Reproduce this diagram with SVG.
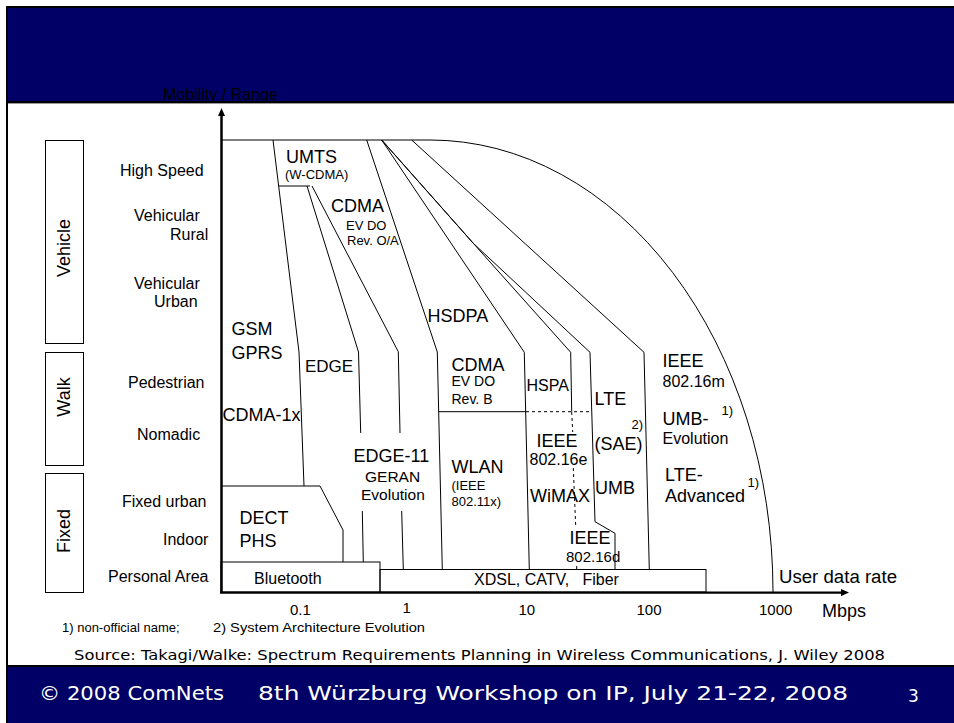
<svg xmlns="http://www.w3.org/2000/svg" width="954" height="723" viewBox="0 0 954 723">
<style>
.t{font-family:"Liberation Sans",Arial,sans-serif;fill:#000}
.v{font-family:"DejaVu Sans",Verdana,sans-serif}
.ln{fill:none;stroke:#000;stroke-width:1}
.ds{fill:none;stroke:#000;stroke-width:1;stroke-dasharray:3 3}
.box{fill:#fff;stroke:#000;stroke-width:1}
.s13{font-size:13px}.s14{font-size:14px}.s15{font-size:15px}.s155{font-size:15.5px}.s16{font-size:16px}.s17{font-size:17px}.s18{font-size:18px}
</style>
<defs>
<marker id="arr" viewBox="0 0 8 7" markerWidth="8" markerHeight="7" refX="0" refY="3.5" orient="auto" markerUnits="userSpaceOnUse">
<path d="M0,0 L8,3.5 L0,7 z" fill="#000"/>
</marker>
</defs>
<rect x="0" y="0" width="954" height="723" fill="#fff"/>
<g id="header">
<rect x="7" y="7" width="952" height="95" fill="#000066" stroke="#000" stroke-width="2"/>
<line x1="8" y1="103.5" x2="954" y2="103.5" stroke="#999" stroke-width="1"/>
</g>
<g id="footer">
<rect x="7" y="666" width="952" height="62" fill="#000066" stroke="#000" stroke-width="2"/>
<text class="v" x="39" y="700" font-size="20" fill="#fff" textLength="185" lengthAdjust="spacingAndGlyphs">© 2008 ComNets</text>
<text class="v" x="258" y="700" font-size="20" fill="#fff" textLength="590" lengthAdjust="spacingAndGlyphs">8th Würzburg Workshop on IP, July 21-22, 2008</text>
<text class="v" x="908" y="702" font-size="17" fill="#fff">3</text>
</g>
<line x1="7" y1="7" x2="7" y2="723" stroke="#000" stroke-width="2"/>
<text class="t s16" x="163" y="100">Mobility / Range</text>

<g id="categories">
<g id="vehicle"><rect class="box" x="45.5" y="140.5" width="38" height="203"/>
<text class="t s18" transform="translate(70,248) rotate(-90)" text-anchor="middle">Vehicle</text></g>
<g id="walk"><rect class="box" x="45.5" y="352.5" width="38" height="113"/>
<text class="t s18" transform="translate(70,397) rotate(-90)" text-anchor="middle">Walk</text></g>
<g id="fixed"><rect class="box" x="45.5" y="473.5" width="38" height="119"/>
<text class="t s18" transform="translate(70,531) rotate(-90)" text-anchor="middle">Fixed</text></g>
</g>

<g id="levels" class="t s16">
<text x="120" y="176">High Speed</text>
<text x="134" y="221">Vehicular</text>
<text x="170" y="239.5">Rural</text>
<text x="134" y="288.5">Vehicular</text>
<text x="154" y="307">Urban</text>
<text x="128" y="387.5">Pedestrian</text>
<text x="137" y="439.5">Nomadic</text>
<text x="122" y="507">Fixed urban</text>
<text x="163" y="545">Indoor</text>
<text x="108" y="582">Personal Area</text>
</g>

<g id="connectors">
<path class="ln" d="M221,140 H430 A343,452 0 0 1 773,592"/>
<polyline class="ln" points="273,140 299,352 304,486"/>
<line class="ln" x1="278.5" y1="186" x2="310" y2="186"/>
<polyline class="ln" points="307,186 358.5,352 360.7,433"/>
<line class="ln" x1="362.3" y1="511" x2="363.3" y2="562"/>
<polyline class="ln" points="312,186 398.3,351.7 400,433"/>
<line class="ln" x1="401.7" y1="511" x2="403.3" y2="569.5"/>
<polyline class="ln" points="366.7,140 437.3,352 442.3,569.5"/>
<polyline class="ln" points="381.7,140 524.3,352.3 529.3,569.5"/>
<polyline class="ln" points="381.7,140 473.3,243.3 570.7,352.3 571.7,411.7"/>
<polyline class="ln" points="381.7,140 473.3,243.3 590,352.3 595,521.7 615,533.3 615,569.5"/>
<polyline class="ln" points="411.7,140 644,352.3 649.3,569.5"/>
<polyline class="ln" points="221,486 320,486 343,530 343,562"/>
<line class="ln" x1="439" y1="411.7" x2="526" y2="411.7"/>
<line class="ds" x1="526" y1="411.7" x2="591" y2="411.7"/>
<line class="ds" x1="571.7" y1="412" x2="572.7" y2="432"/>
<line class="ds" x1="573.3" y1="468" x2="575.7" y2="526"/>
<line class="ln" x1="576.7" y1="566" x2="576.7" y2="570"/>
<rect class="ln" x="221" y="562" width="159" height="30"/>
<rect class="ln" x="380" y="569.5" width="326" height="22.5"/>
<line x1="221.5" y1="593" x2="221.5" y2="116" stroke="#000" stroke-width="2.5" marker-end="url(#arr)"/>
<line x1="220" y1="592.6" x2="841" y2="592.6" stroke="#000" stroke-width="2.3" marker-end="url(#arr)"/>
</g>

<g id="systems" class="t">
<text class="s18" x="286" y="162.5">UMTS</text>
<text class="s13" x="285" y="179">(W-CDMA)</text>
<text class="s18" x="331" y="211.5">CDMA</text>
<text class="s13" x="346" y="229.5">EV DO</text>
<text class="s13" x="347" y="245">Rev. O/A</text>
<text class="s18" x="427.5" y="321.5">HSDPA</text>
<text class="s18" x="231.5" y="335">GSM</text>
<text class="s18" x="231.5" y="358.5">GPRS</text>
<text class="s18" x="222.5" y="420.5">CDMA-1x</text>
<text class="s18" x="239.5" y="524">DECT</text>
<text class="s18" x="239.5" y="546.5">PHS</text>
<text class="s16" x="254" y="583.5">Bluetooth</text>
<text class="s17" x="305" y="371.5">EDGE</text>
<text class="s18" x="353.5" y="461.5">EDGE-11</text>
<text class="s155" x="365" y="481.5">GERAN</text>
<text class="s155" x="361" y="500">Evolution</text>
<text class="s18" x="451.5" y="370.5">CDMA</text>
<text class="s14" x="451.5" y="386">EV DO</text>
<text class="s14" x="451.5" y="403.5">Rev. B</text>
<text class="s18" x="451.5" y="472.5">WLAN</text>
<text class="s13" x="451.5" y="490">(IEEE</text>
<text class="s13" x="451.5" y="505.5">802.11x)</text>
<text class="s16" x="526.5" y="390.5">HSPA</text>
<text class="s18" x="594.5" y="405">LTE</text>
<text class="s13" x="631.5" y="428.5">2)</text>
<text class="s18" x="594.5" y="450">(SAE)</text>
<text class="s18" x="536.5" y="446.5">IEEE</text>
<text class="s16" x="529.5" y="464.5">802.16e</text>
<text class="s18" x="530" y="501.5">WiMAX</text>
<text class="s18" x="595" y="493.5">UMB</text>
<text class="s18" x="569.5" y="544">IEEE</text>
<text class="s15" x="566" y="561.5">802.16d</text>
<text class="s16" x="474" y="585" xml:space="preserve">XDSL, CATV,   Fiber</text>
<text class="s18" x="662.5" y="366.5">IEEE</text>
<text class="s16" x="662.5" y="386.5">802.16m</text>
<text class="s18" x="662.5" y="425">UMB-</text>
<text class="s13" x="721.5" y="415">1)</text>
<text class="s16" x="662.5" y="444">Evolution</text>
<text class="s18" x="665" y="480.5">LTE-</text>
<text class="s18" x="665" y="501.5">Advanced</text>
<text class="s13" x="747.5" y="486.5">1)</text>
</g>

<g id="axis-labels" class="t">
<text class="s15" x="290" y="615">0.1</text>
<text class="s15" x="402.5" y="613">1</text>
<text class="s15" x="518.5" y="615">10</text>
<text class="s15" x="636.5" y="615">100</text>
<text class="s15" x="759" y="615">1000</text>
<text class="s18" x="822" y="617">Mbps</text>
<text class="s18" x="779" y="583" textLength="118" lengthAdjust="spacingAndGlyphs">User data rate</text>
</g>

<g id="notes" class="t">
<text class="s13" x="62" y="632">1) non-official name;</text>
<text class="s13" x="213" y="632" textLength="212" lengthAdjust="spacingAndGlyphs">2) System Architecture Evolution</text>
<text class="v" x="74" y="660" font-size="14.5" textLength="811" lengthAdjust="spacingAndGlyphs">Source: Takagi/Walke: Spectrum Requirements Planning in Wireless Communications, J. Wiley 2008</text>
</g>
</svg>
